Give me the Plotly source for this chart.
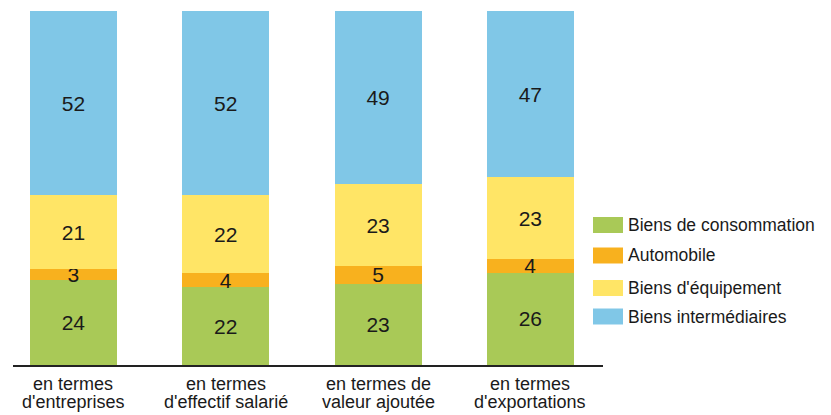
import plotly.graph_objects as go

categories = ["en termes<br>d'entreprises", "en termes<br>d'effectif salarié",
              "en termes de<br>valeur ajoutée", "en termes<br>d'exportations"]
series_names = ["Biens de consommation", "Automobile", "Biens d'équipement", "Biens intermédiaires"]
consommation = [24, 22, 23, 26]
automobile = [3, 4, 5, 4]
equipement = [21, 22, 23, 23]
intermediaires = [52, 52, 49, 47]
colors = ["#A9C957", "#F8B11E", "#FFE566", "#80C7E7"]

values = [consommation, automobile, equipement, intermediaires]

# the page body adds an 8px margin; work in page pixels and subtract it
OFF = 8
W, H = 831 - OFF, 415 - OFF
ml, mt = 13 - OFF, 11 - OFF
plot_right, plot_bottom = 603 - OFF, 365 - OFF
mr, mb = W - plot_right, H - plot_bottom
pw, ph = W - ml - mr, H - mt - mb

def px_y(py):
    return (365 - py) / ph

def px_x(px):
    return (px - 13) / pw

fig = go.Figure()
for name, vals, col in zip(series_names, values, colors):
    fig.add_trace(go.Bar(
        x=categories, y=vals, name=name, marker=dict(color=col, line=dict(width=0)),
        width=0.571, text=[str(v) for v in vals], textposition="inside",
        insidetextanchor="middle", textangle=0, constraintext="none",
        textfont=dict(family="Liberation Sans, Arial, sans-serif", size=21, color="#1a1a1a"),
        showlegend=False, cliponaxis=False,
    ))

annotations = []
# category labels, two lines each
for cat in categories:
    lines = cat.split("<br>")
    for i, line in enumerate(lines):
        py = 383.5 + 18 * i
        annotations.append(dict(
            x=cat, xref="x", y=px_y(py), yref="paper", text=line,
            showarrow=False, xanchor="center", yanchor="middle",
            font=dict(family="Liberation Sans, Arial, sans-serif", size=18, color="#1a1a1a"),
        ))

# custom legend
shapes = []
legend_centers = [225, 255.5, 288, 316.5]
for name, col, cy in zip(series_names, colors, legend_centers):
    shapes.append(dict(type="rect", xref="paper", yref="paper",
                       x0=px_x(593), x1=px_x(623), y0=px_y(cy + 8), y1=px_y(cy - 8),
                       fillcolor=col, line=dict(width=0)))
    annotations.append(dict(
        x=px_x(626), xref="paper", y=px_y(cy), yref="paper", text=name,
        showarrow=False, xanchor="left", yanchor="middle",
        font=dict(family="Liberation Sans, Arial, sans-serif", size=17.5, color="#1a1a1a"),
    ))

fig.update_layout(
    width=W, height=H, barmode="stack",
    margin=dict(l=ml, r=mr, t=mt, b=mb, pad=0),
    plot_bgcolor="white", paper_bgcolor="white",
    annotations=annotations, shapes=shapes,
    uniformtext=dict(minsize=21, mode="show"),
)
fig.update_xaxes(range=[-0.397, 3.477], showticklabels=False, ticks="",
                 showline=True, linecolor="#222222", linewidth=2, showgrid=False, zeroline=False)
fig.update_yaxes(range=[0, 100], visible=False, showgrid=False, zeroline=False)

fig.write_html("out.html")
